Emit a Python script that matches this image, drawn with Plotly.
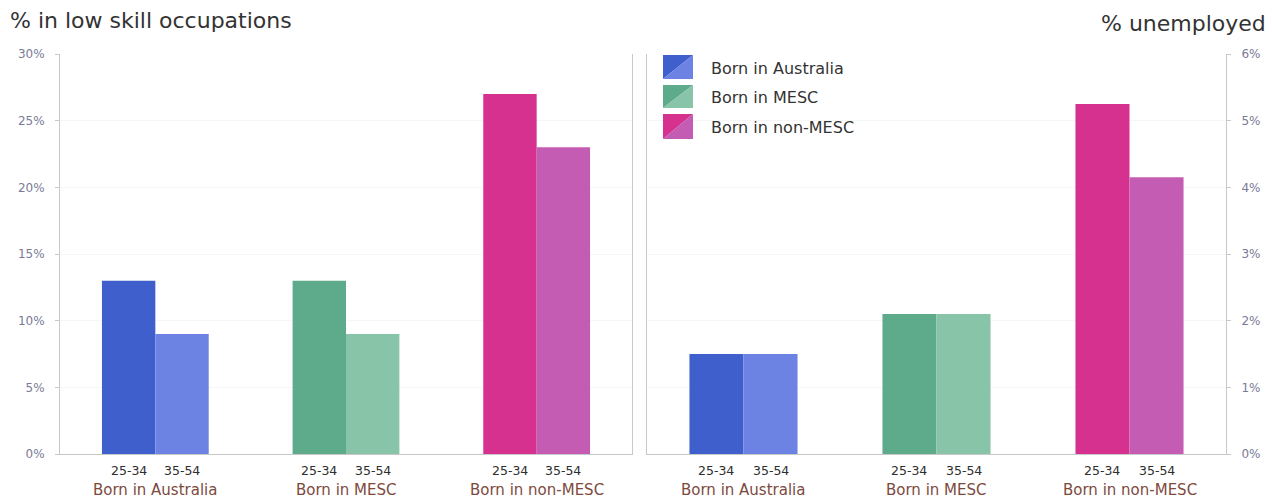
import plotly.graph_objects as go

# ---- data ----
origins = ["Born in Australia", "Born in MESC", "Born in non-MESC"]
ages = ["25-34", "35-54"]
low_skill_25_34 = [13, 13, 27]
low_skill_35_54 = [9, 9, 23]
unemployed_25_34 = [1.5, 2.1, 5.25]
unemployed_35_54 = [1.5, 2.1, 4.15]
dark_colors = ["#3f5fcc", "#5dab8a", "#d6318e"]
light_colors = ["#6c83e4", "#88c4a8", "#c45cb3"]

W, H = 1272, 499
L, R, T, B = 60, 46, 54, 45
PW, PH = W - L - R, H - T - B
BARGAP = 0.44

def px_x(px):
    return (px - L) / PW

def px_y(py):
    return (H - B - py) / PH

fig = go.Figure()
panels = [("x", "y", low_skill_25_34, low_skill_35_54),
          ("x2", "y2", unemployed_25_34, unemployed_35_54)]
for xa, ya, v1, v2 in panels:
    fig.add_trace(go.Bar(x=origins, y=v1, marker=dict(color=dark_colors, line=dict(width=0)),
                         offsetgroup="a", xaxis=xa, yaxis=ya, showlegend=False, name=ages[0]))
    fig.add_trace(go.Bar(x=origins, y=v2, marker=dict(color=light_colors, line=dict(width=0)),
                         offsetgroup="b", xaxis=xa, yaxis=ya, showlegend=False, name=ages[1]))

annotations = []
off = (1 - BARGAP) / 4
for xa in ["x", "x2"]:
    for i, o in enumerate(origins):
        for k, a in enumerate(ages):
            annotations.append(dict(x=i + (-off if k == 0 else off), xref=xa,
                                    y=px_y(470), yref="paper", text=a, showarrow=False,
                                    xanchor="center", yanchor="middle",
                                    font=dict(size=12.5, color="#2e2e2e", family="DejaVu Sans")))
        annotations.append(dict(x=i, xref=xa, y=px_y(490), yref="paper", text=o,
                                showarrow=False, xanchor="center", yanchor="middle",
                                font=dict(size=15, color="#7d4a3e", family="DejaVu Sans")))

annotations.append(dict(x=px_x(8), xref="paper", y=px_y(20), yref="paper",
                        text="% in low skill occupations", showarrow=False,
                        xanchor="left", yanchor="middle",
                        font=dict(size=22, color="#333333", family="DejaVu Sans")))
annotations.append(dict(x=px_x(1268), xref="paper", y=px_y(23), yref="paper",
                        text="% unemployed", showarrow=False,
                        xanchor="right", yanchor="middle",
                        font=dict(size=22, color="#333333", family="DejaVu Sans")))

# manual legend with split swatches
shapes = []
rows = [(55, 79), (85, 108), (114, 139)]
x0, x1 = 663, 693
for (y0, y1), o, dc, lc in zip(rows, origins, dark_colors, light_colors):
    pa = f"M{px_x(x0)},{px_y(y0)} L{px_x(x1)},{px_y(y0)} L{px_x(x0)},{px_y(y1)} Z"
    pb = f"M{px_x(x1)},{px_y(y0)} L{px_x(x1)},{px_y(y1)} L{px_x(x0)},{px_y(y1)} Z"
    shapes.append(dict(type="path", path=pa, xref="paper", yref="paper",
                       fillcolor=dc, line=dict(width=0)))
    shapes.append(dict(type="path", path=pb, xref="paper", yref="paper",
                       fillcolor=lc, line=dict(width=0)))
    annotations.append(dict(x=px_x(709), xref="paper", y=px_y((y0 + y1) / 2 + 1), yref="paper",
                            text=o, showarrow=False, xanchor="left", yanchor="middle",
                            font=dict(size=16, color="#333333", family="DejaVu Sans")))

axis_line = "#c8c8c8"
tickfont = dict(size=12, color="#7a7a96", family="DejaVu Sans")
fig.update_layout(
    width=W, height=H,
    margin=dict(l=L, r=R, t=T, b=B, pad=0),
    paper_bgcolor="white", plot_bgcolor="white",
    barmode="group", bargap=BARGAP, bargroupgap=0,
    showlegend=False,
    xaxis=dict(domain=[0, px_x(632)], anchor="y", showticklabels=False, ticks="",
               showline=True, linecolor=axis_line, linewidth=1, showgrid=False),
    xaxis2=dict(domain=[px_x(647), 1], anchor="y2", showticklabels=False, ticks="",
                showline=True, linecolor=axis_line, linewidth=1, showgrid=False),
    yaxis=dict(range=[0, 30], dtick=5, ticksuffix="%", anchor="x", side="left",
               showline=True, mirror=True, linecolor=axis_line, linewidth=1,
               ticks="outside", ticklen=4, tickcolor=axis_line, tickfont=tickfont,
               ticklabelstandoff=8,
               showgrid=True, gridcolor="#f6f6f6", zeroline=False),
    yaxis2=dict(range=[0, 6], dtick=1, ticksuffix="%", anchor="x2", side="right",
                showline=True, mirror=True, linecolor=axis_line, linewidth=1,
                ticks="outside", ticklen=4, tickcolor=axis_line, tickfont=tickfont,
                ticklabelstandoff=8,
                showgrid=True, gridcolor="#f6f6f6", zeroline=False),
    annotations=annotations,
    shapes=shapes,
)

fig.write_html("out.html")
